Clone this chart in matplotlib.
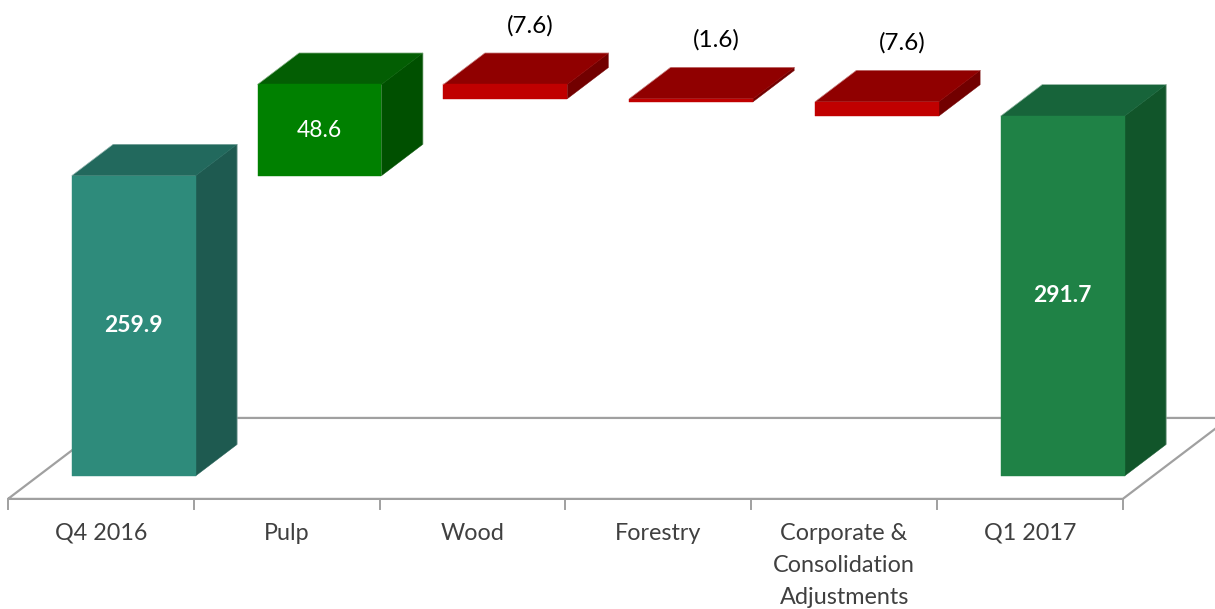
import numpy as np
import matplotlib.pyplot as plt
from matplotlib.patches import Polygon

# --- Bridge data ---
categories = ["Q4 2016", "Pulp", "Wood", "Forestry",
              "Corporate &\nConsolidation\nAdjustments", "Q1 2017"]
values = [259.9, 48.6, -7.6, -1.6, -7.6, 291.7]
is_total = [True, False, False, False, False, True]
value_labels = ["259.9", "48.6", "(7.6)", "(1.6)", "(7.6)", "291.7"]

# face colours: front, top, side
face_colors = {
    "start": ("#2e8b7b", "#22695d", "#1e5a50"),
    "end": ("#1f8246", "#17643a", "#11552a"),
    "up": ("#008000", "#035e03", "#005000"),
    "down": ("#c00000", "#900000", "#720000"),
}

# --- 3D look settings ---
base = 100.0          # value axis starts here
bar_left = -0.32      # front-face offset from category centre
bar_w = 0.667
ddx, ddy = 0.2234, 16.78   # one unit of depth in data units
floor_front, floor_back = -0.73, 1.84

fig = plt.figure(figsize=(12.15, 6.09), dpi=100)
ax = fig.add_axes([0, 0, 1, 1])
ax.set_xlim(-0.706, 5.833)
ax.set_ylim(29.1, 353.5)
ax.axis("off")

n = len(categories)
grey = "#a0a0a0"

# floor plane
fx0, fx1 = -0.5, n - 0.5
corners = [(fx0 + floor_front * ddx, base + floor_front * ddy),
           (fx1 + floor_front * ddx, base + floor_front * ddy),
           (fx1 + floor_back * ddx, base + floor_back * ddy),
           (fx0 + floor_back * ddx, base + floor_back * ddy)]
xs = [c[0] for c in corners] + [corners[0][0]]
ys = [c[1] for c in corners] + [corners[0][1]]
ax.plot(xs, ys, color=grey, lw=1.6, zorder=1, solid_capstyle="butt")

# tick marks along the front edge
for k in range(n + 1):
    tx = k - 0.5 + floor_front * ddx
    ty = base + floor_front * ddy
    ax.plot([tx, tx], [ty, ty - 5.3], color=grey, lw=1.4, zorder=1)


def box(x0, lo, hi, cols, z):
    x1 = x0 + bar_w
    front = [(x0, lo), (x1, lo), (x1, hi), (x0, hi)]
    top = [(x0, hi), (x1, hi), (x1 + ddx, hi + ddy), (x0 + ddx, hi + ddy)]
    side = [(x1, lo), (x1 + ddx, lo + ddy), (x1 + ddx, hi + ddy), (x1, hi)]
    for pts, c in ((side, cols[2]), (top, cols[1]), (front, cols[0])):
        ax.add_patch(Polygon(pts, closed=True, facecolor=c,
                             edgecolor=c, lw=0.3, zorder=z))
    # faint highlight on the outer edges
    ax.plot([x0, x0 + ddx, x1 + ddx, x1 + ddx],
            [hi, hi + ddy, hi + ddy, lo + ddy],
            color="white", lw=0.6, alpha=0.45, zorder=z)


running = 0.0
for i, (cat, v, tot, lab) in enumerate(zip(categories, values, is_total, value_labels)):
    x0 = i + bar_left
    if tot:
        lo, hi = base, v
        running = v
        cols = face_colors["start"] if i == 0 else face_colors["end"]
    else:
        lo, hi = sorted([running, running + v])
        running += v
        cols = face_colors["up"] if v > 0 else face_colors["down"]
    box(x0, lo, hi, cols, 3 + i)

    cx = x0 + bar_w / 2
    if tot:
        ax.text(cx, (lo + hi) / 2, lab, ha="center", va="center", color="white",
                fontsize=16.5, fontweight="bold", family="Lato", zorder=20)
    elif v > 0:
        ax.text(cx, (lo + hi) / 2, lab, ha="center", va="center", color="white",
                fontsize=16.5, family="Lato", zorder=20)
    else:
        ax.annotate(lab, (cx + 0.5 * ddx, hi + ddy), xytext=(3, 19.5),
                    textcoords="offset points", ha="center", va="center",
                    color="black", fontsize=17.5, family="Lato", zorder=20)

    # category label under the floor
    ax.text(i + floor_front * ddx, 75, cat, ha="center", va="top",
            color="#404040", fontsize=16.8, family="Lato", linespacing=1.66)

fig.savefig("out.png", dpi=100)
